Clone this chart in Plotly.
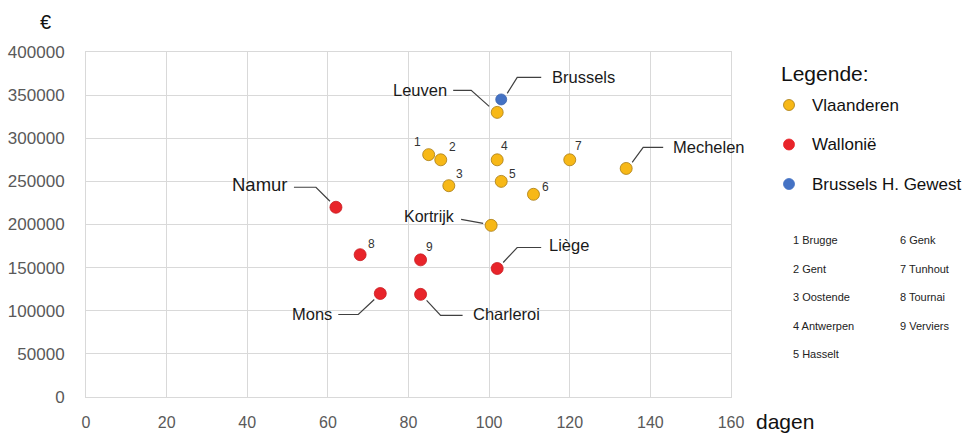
import plotly.graph_objects as go

# --- data -----------------------------------------------------------------
# Vlaanderen (yellow): named cities and numbered cities
vl_names = ["Leuven", "Mechelen", "Kortrijk", "1", "2", "3", "4", "5", "6", "7"]
vl_days = [102, 134, 100.5, 85, 88, 90, 102, 103, 111, 120]
vl_price = [330000, 265000, 199000, 281000, 275000, 245000, 275000, 250000, 235000, 275000]

# Wallonië (red)
wa_names = ["Namur", "Liège", "Mons", "Charleroi", "8", "9"]
wa_days = [62, 102, 73, 83, 68, 83]
wa_price = [220000, 149000, 120000, 119000, 165000, 159000]

# Brussels H. Gewest (blue)
br_names = ["Brussels"]
br_days = [103]
br_price = [345000]

x_ticks = [0, 20, 40, 60, 80, 100, 120, 140, 160]
y_ticks = [0, 50000, 100000, 150000, 200000, 250000, 300000, 350000, 400000]

legend_labels = ["Vlaanderen", "Wallonië", "Brussels H. Gewest"]
key_left = ["1 Brugge", "2 Gent", "3 Oostende", "4 Antwerpen", "5 Hasselt"]
key_right = ["6 Genk", "7 Tunhout", "8 Tournai", "9 Verviers"]

# --- styling --------------------------------------------------------------
YELLOW, YELLOW_LINE = "#F7B817", "#A87B12"
RED, RED_LINE = "#E8242A", "#C81A20"
BLUE, BLUE_LINE = "#4472C4", "#3A63AD"
FONT = "Liberation Sans, Arial, sans-serif"
GRID = "#D9D9D9"

# leader-line callouts: elbow path in pixels from the point,
# then where the label text sits relative to the point
callouts = {
    "Leuven":    dict(path=[(-8, 6), (-26, 22), (-44, 22)], text=(-48, 22), anchor="right", size=16.5),
    "Brussels":  dict(path=[(6, 6), (16, 22), (40, 22)], text=(49, 22), anchor="left", size=16.5),
    "Mechelen":  dict(path=[(6, 6), (17, 21), (37, 21)], text=(45, 21), anchor="left", size=16.5),
    "Kortrijk":  dict(path=[(-8, 2), (-30, 6)], text=(-34, 9), anchor="right", size=16),
    "Namur":     dict(path=[(-6, 6), (-20, 20), (-42, 20)], text=(-46, 23), anchor="right", size=18.5),
    "Liège":     dict(path=[(6, 6), (20, 21), (44, 21)], text=(50, 23), anchor="left", size=16.5),
    "Mons":      dict(path=[(-6, -6), (-22, -21), (-42, -21)], text=(-46, -20), anchor="right", size=16.5),
    "Charleroi": dict(path=[(6, -6), (20, -21), (42, -21)], text=(50, -20), anchor="left", size=16.5),
}

# offsets (px) of the small index numbers from their points
index_offsets = {
    "1": (-11, 13), "2": (12, 13), "3": (11, 12), "4": (7, 14), "5": (11, 7),
    "6": (12, 7), "7": (9, 14), "8": (11, 11), "9": (9, 13),
}

fig = go.Figure()

series = [
    (vl_names, vl_days, vl_price, YELLOW, YELLOW_LINE, 12),
    (wa_names, wa_days, wa_price, RED, RED_LINE, 12),
    (br_names, br_days, br_price, BLUE, BLUE_LINE, 11),
]

for label, (names, xs, ys, col, lcol, size) in zip(legend_labels, series):
    fig.add_trace(go.Scatter(
        x=xs, y=ys, mode="markers", name=label, showlegend=False,
        marker=dict(color=col, size=size, line=dict(color=lcol, width=0.8)),
        hoverinfo="text", text=names,
    ))

shapes = []
annotations = []

for names, xs, ys, *_ in series:
    for n, x, y in zip(names, xs, ys):
        if n in callouts:
            c = callouts[n]
            pts = c["path"]
            path = "M %g,%g " % pts[0] + " ".join("L %g,%g" % p for p in pts[1:])
            shapes.append(dict(
                type="path", xref="x", yref="y",
                xsizemode="pixel", ysizemode="pixel", xanchor=x, yanchor=y,
                path=path, line=dict(color="#404040", width=1.2),
            ))
            annotations.append(dict(
                x=x, y=y, xref="x", yref="y", text=n, showarrow=False,
                xshift=c["text"][0], yshift=c["text"][1],
                xanchor=c["anchor"], yanchor="middle",
                font=dict(family=FONT, size=c["size"], color="#1a1a1a"),
            ))
        else:
            dx, dy = index_offsets[n]
            annotations.append(dict(
                x=x, y=y, xref="x", yref="y", text=n, showarrow=False,
                xshift=dx, yshift=dy, xanchor="center", yanchor="middle",
                font=dict(family=FONT, size=12, color="#333333"),
            ))

# axis captions (positions in pixels, converted below)
annotations.append(dict(x=45, y=22, xref="paper", yref="paper", text="€", showarrow=False,
                        xanchor="center", yanchor="middle",
                        font=dict(family=FONT, size=20, color="#111111")))
annotations.append(dict(x=754, y=421, xref="paper", yref="paper", text="dagen", showarrow=False,
                        xanchor="left", yanchor="middle",
                        font=dict(family=FONT, size=21, color="#111111")))

# manual legend
annotations.append(dict(x=779, y=73, xref="paper", yref="paper", text="Legende:", showarrow=False,
                        xanchor="left", yanchor="middle",
                        font=dict(family=FONT, size=21, color="#111111")))
legend_cols = [(YELLOW, YELLOW_LINE), (RED, RED), (BLUE, BLUE)]
for i, (lab, (col, lcol)) in enumerate(zip(legend_labels, legend_cols)):
    yy = 105 + i * 39.5
    shapes.append(dict(type="circle", xref="paper", yref="paper",
                       xsizemode="pixel", ysizemode="pixel", xanchor=789, yanchor=yy,
                       x0=-5.5, x1=5.5, y0=-5.5, y1=5.5,
                       fillcolor=col, line=dict(color=lcol, width=0.8)))
    annotations.append(dict(x=810, y=yy, xref="paper", yref="paper", text=lab, showarrow=False,
                            xanchor="left", yanchor="middle",
                            font=dict(family=FONT, size=17, color="#111111")))

# numbered key
for i, t in enumerate(key_left):
    annotations.append(dict(x=791, y=240 + i * 28.5, xref="paper", yref="paper", text=t,
                            showarrow=False, xanchor="left", yanchor="middle",
                            font=dict(family=FONT, size=11, color="#222222")))
for i, t in enumerate(key_right):
    annotations.append(dict(x=898, y=240 + i * 28.5, xref="paper", yref="paper", text=t,
                            showarrow=False, xanchor="left", yanchor="middle",
                            font=dict(family=FONT, size=11, color="#222222")))

# convert pixel-based paper positions to paper fractions
W, H = 965, 433
L, R, T, B = 86, 234, 52, 36
pw, ph = W - L - R, H - T - B


def to_paper(px, py):
    return (px - L) / pw, 1 - (py - T) / ph


for a in annotations:
    if a["xref"] == "paper":
        a["x"], a["y"] = to_paper(a["x"], a["y"])
for s in shapes:
    if s["xref"] == "paper":
        s["xanchor"], s["yanchor"] = to_paper(s["xanchor"], s["yanchor"])

fig.update_layout(
    width=W, height=H,
    margin=dict(l=L, r=R, t=T, b=B, autoexpand=False),
    plot_bgcolor="white", paper_bgcolor="white",
    shapes=shapes, annotations=annotations,
    font=dict(family=FONT),
    xaxis=dict(range=[0, 160], tickvals=x_ticks, showgrid=True, gridcolor=GRID, gridwidth=1,
               zeroline=False, showline=True, mirror=True, linecolor=GRID, automargin=False,
               tickfont=dict(family=FONT, size=16, color="#595959"), ticks="",
               ticklabelstandoff=11),
    yaxis=dict(range=[0, 400000], tickvals=y_ticks, showgrid=True, gridcolor=GRID, gridwidth=1,
               zeroline=False, showline=True, mirror=True, linecolor=GRID, automargin=False,
               tickfont=dict(family=FONT, size=17, color="#595959"), ticks="",
               ticklabelstandoff=17, tickformat="d"),
)

fig.write_html("out.html")
